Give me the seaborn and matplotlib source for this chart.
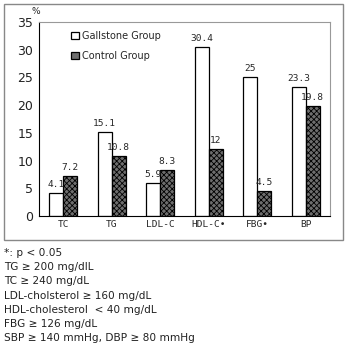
import pandas as pd
import matplotlib
matplotlib.use("Agg")
import matplotlib.pyplot as plt
import seaborn as sns
from matplotlib.patches import Rectangle

# ===============================
# Data
# ===============================
categories = ["TC", "TG", "LDL-C", "HDL-C\u2022", "FBG\u2022", "BP"]
gallstone = [4.1, 15.1, 5.9, 30.4, 25, 23.3]
control = [7.2, 10.8, 8.3, 12, 4.5, 19.8]
groups = ["Gallstone Group", "Control Group"]
notes = [
    "*: p < 0.05",
    "TG \u2265 200 mg/dlL",
    "TC \u2265 240 mg/dL",
    "LDL-cholsterol \u2265 160 mg/dL",
    "HDL-cholesterol  < 40 mg/dL",
    "FBG \u2265 126 mg/dL",
    "SBP \u2265 140 mmHg, DBP \u2265 80 mmHg",
]

df = pd.DataFrame({
    "cat": categories * 2,
    "val": gallstone + control,
    "grp": [groups[0]] * len(categories) + [groups[1]] * len(categories),
})

sns.set_style("white")
plt.rcParams["font.family"] = ["DejaVu Sans"]
plt.rcParams["hatch.linewidth"] = 0.6
plt.rcParams["hatch.color"] = "#3a3a3a"

fig = plt.figure(figsize=(3.46, 3.43), dpi=100)
W, H = 346, 343

# outer frame around the chart
fig.patches.append(Rectangle((4 / W, 1 - 240 / H), 339 / W, 236 / H,
                             transform=fig.transFigure, fill=False,
                             edgecolor="#888888", linewidth=1.0))

ax = fig.add_axes([39 / W, 1 - 216 / H, 291 / W, 194 / H])

sns.barplot(data=df, x="cat", y="val", hue="grp", order=categories,
            hue_order=groups, palette=["white", "#6e6e6e"], width=0.58,
            edgecolor="black", linewidth=0.9, saturation=1, ax=ax)

for bar in ax.containers[1]:
    bar.set_hatch("xxxxxx")

for cont, vals in zip(ax.containers, [gallstone, control]):
    labels = [f"{v:g}" for v in vals]
    ax.bar_label(cont, labels=labels, padding=3, fontsize=6.8,
                 family="DejaVu Sans Mono")

ax.set_ylim(0, 35)
ax.set_xlim(-0.5, 5.5)
ax.set_yticks(range(0, 36, 5))
ax.tick_params(axis="y", labelsize=9, length=3, width=0.6, pad=1, colors="#222222")
ax.tick_params(axis="x", labelsize=6.8, length=0, pad=3)
for lab in ax.get_xticklabels():
    lab.set_family("DejaVu Sans Mono")
ax.set_xlabel("")
ax.set_ylabel("")
for s in ax.spines.values():
    s.set_color("#999999")
    s.set_linewidth(0.8)
ax.spines["left"].set_color("black")
ax.spines["bottom"].set_color("black")

ax.legend(loc="upper left", bbox_to_anchor=(0.08, 1.0), frameon=False,
          fontsize=7, handlelength=0.8, handleheight=0.8, handletextpad=0.3,
          labelspacing=1.05)

fig.text(31 / W, 1 - 12 / H, "%", fontsize=6.5, va="center")

for i, t in enumerate(notes):
    fig.text(4 / W, 1 - (253 + i * 14.2) / H, t, fontsize=7.6,
             va="center", color="#222222")

fig.savefig("out.png", dpi=100)
